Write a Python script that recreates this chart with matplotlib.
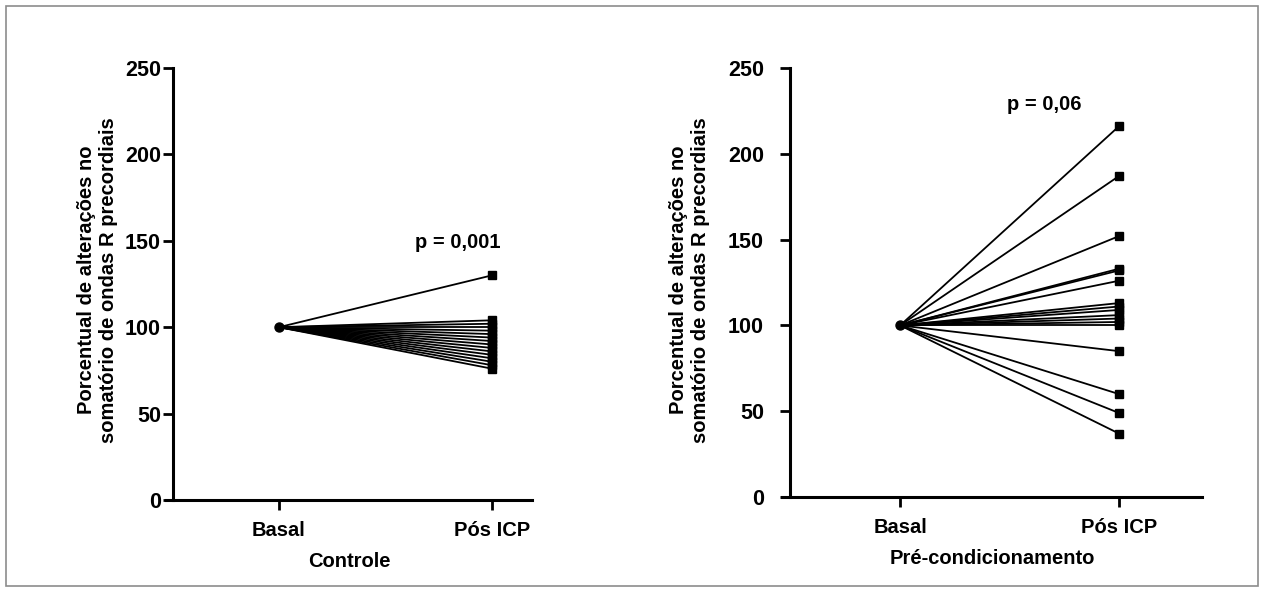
import matplotlib
matplotlib.use("Agg")
import matplotlib.pyplot as plt
from matplotlib.patches import Rectangle

plt.rcParams['font.family'] = ['Liberation Sans', 'DejaVu Sans']
plt.rcParams['font.weight'] = 'bold'

groups = ['Basal', 'Pós ICP']

# percent change at Pós ICP (Basal = 100 for every subject)
controle_pos = [130, 104, 102, 100, 98, 96, 94, 92, 90, 88, 86, 84, 82, 80, 78, 76]
precond_pos = [216, 187, 152, 133, 132, 126, 113, 111, 109, 106, 104, 102, 100,
               85, 60, 49, 37]

ylabel = 'Porcentual de alterações no\nsomatório de ondas R precordiais'
yticks = [0, 50, 100, 150, 200, 250]

W, H = 1264, 592
fig = plt.figure(figsize=(W / 100, H / 100), dpi=100)
fig.patches.append(Rectangle((6 / W, 6 / H), (W - 12) / W, (H - 12) / H,
                             transform=fig.transFigure, fill=False,
                             edgecolor='#8c8c8c', linewidth=1.2))

FS = 14.5


def paired_panel(rect, xlim, values, title, ptext, ppos, tick_pad, ylab_x):
    ax = fig.add_axes(rect)
    for v in values:
        ax.plot([0, 1], [100, v], color='black', lw=1.3, zorder=2)
        ax.plot(1, v, marker='s', ms=6, color='black', zorder=3)
    ax.plot(0, 100, marker='o', ms=6.5, color='black', zorder=4)

    ax.set_xlim(*xlim)
    ax.set_ylim(0, 250)
    ax.set_xticks([0, 1], groups)
    ax.set_yticks(yticks, [str(t) for t in yticks])
    ax.tick_params(axis='both', direction='out', length=7, width=2,
                   color='black', labelsize=FS)
    ax.tick_params(axis='y', pad=tick_pad, labelsize=FS + 1)
    ax.tick_params(axis='x', pad=8)
    for lab in ax.get_xticklabels() + ax.get_yticklabels():
        lab.set_fontweight('bold')
    for s in ['top', 'right']:
        ax.spines[s].set_visible(False)
    for s in ['left', 'bottom']:
        ax.spines[s].set_linewidth(2.2)
    ax.spines['left'].set_position(('axes', 0.02))
    ax.set_xlabel(title, fontsize=FS, fontweight='bold', labelpad=9)
    ax.text(ppos[0], ppos[1], ptext, fontsize=FS, fontweight='bold',
            ha='center', va='center')
    fig.text(ylab_x / W, 1 - 280 / H, ylabel, rotation=90, fontsize=FS,
             fontweight='bold', ha='center', va='center', multialignment='center',
             linespacing=1.2)
    return ax


# left: axes from x=166..532, y=68..500 (pixels)
paired_panel([166 / W, 92 / H, 366 / W, 432 / H], (-0.53, 1.188), controle_pos,
             'Controle', 'p = 0,001', (0.84, 149), 2, 97)
# right: axes from x=782..1202, y=68..497
paired_panel([782 / W, 95 / H, 420 / W, 429 / H], (-0.54, 1.38), precond_pos,
             'Pré-condicionamento', 'p = 0,06', (0.66, 229), 12, 690)

fig.savefig('out.png', dpi=100)
